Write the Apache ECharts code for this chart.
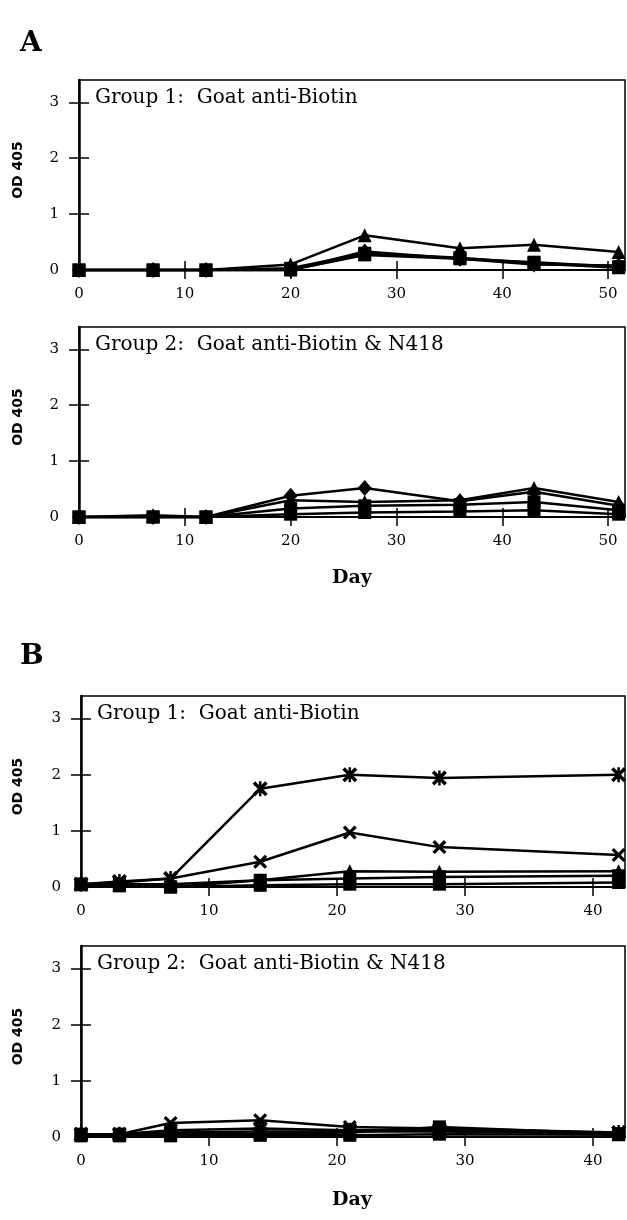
<!DOCTYPE html>
<html><head><meta charset="utf-8">
<script src="https://cdn.jsdelivr.net/npm/echarts@6/dist/echarts.min.js"></script>
<style>html,body{margin:0;padding:0;background:#fff}#c{width:627px;height:1220px}</style>
</head><body><div id="c"></div>
<script>
// ---- data ----
const daysA = [0, 7, 12, 20, 27, 36, 43, 51];
const daysB = [0, 3, 7, 14, 21, 28, 42];
const yTicks = [0, 1, 2, 3];
const xTicksA = [0, 10, 20, 30, 40, 50];
const xTicksB = [0, 10, 20, 30, 40];
const panelTitles = ["Group 1:  Goat anti-Biotin", "Group 2:  Goat anti-Biotin & N418", "Group 1:  Goat anti-Biotin", "Group 2:  Goat anti-Biotin & N418"];

const a1Triangle = [0, 0, 0, 0.10, 0.62, 0.39, 0.45, 0.32];
const a1Diamond  = [0, 0, 0, 0.00, 0.33, 0.20, 0.10, 0.08];
const a1Square   = [0, 0, 0, 0.00, 0.27, 0.20, 0.14, 0.06];
const a1Square2  = [0, 0, 0, 0.03, 0.30, 0.22, 0.12, 0.04];

const a2Diamond  = [0, 0, 0, 0.38, 0.52, 0.28, 0.45, 0.20];
const a2Triangle = [0, 0.03, 0, 0.30, 0.27, 0.30, 0.52, 0.27];
const a2Square   = [0, 0, 0, 0.15, 0.20, 0.22, 0.27, 0.12];
const a2Square2  = [0, 0, 0, 0.05, 0.08, 0.10, 0.12, 0.05];

const b1Asterisk = [0.05, 0.10, 0.15, 1.75, 2.00, 1.94, 2.00];
const b1Cross    = [0.05, 0.08, 0.15, 0.45, 0.97, 0.71, 0.57];
const b1Triangle = [0.05, 0.05, 0.05, 0.12, 0.28, 0.27, 0.28];
const b1Square   = [0.05, 0.05, 0.00, 0.12, 0.15, 0.18, 0.20];
const b1Square2  = [0.05, 0.02, 0.00, 0.03, 0.05, 0.05, 0.08];

const b2Cross    = [0.05, 0.05, 0.25, 0.30, 0.18, 0.15, 0.08];
const b2Asterisk = [0.05, 0.05, 0.12, 0.15, 0.12, 0.12, 0.08];
const b2Triangle = [0.05, 0.05, 0.08, 0.10, 0.10, 0.10, 0.06];
const b2Square   = [0.05, 0.05, 0.05, 0.06, 0.08, 0.18, 0.06];
const b2Square2  = [0.02, 0.02, 0.02, 0.03, 0.03, 0.05, 0.04];

// ---- layout / style ----
const SERIF = "'DejaVu Serif', 'Liberation Serif', serif";
const SANS = "'DejaVu Sans', 'Liberation Sans', sans-serif";
const panels = [
  {left: 79, top: 80, height: 190, xmax: 51.6, days: daysA, xt: xTicksA,
   series: [[a1Square2,'rect'],[a1Square,'rect'],[a1Diamond,'diamond'],[a1Triangle,'triangle']]},
  {left: 79, top: 327, height: 190, xmax: 51.6, days: daysA, xt: xTicksA,
   series: [[a2Square2,'rect'],[a2Square,'rect'],[a2Triangle,'triangle'],[a2Diamond,'diamond']]},
  {left: 81, top: 696, height: 191, xmax: 42.5, days: daysB, xt: xTicksB,
   series: [[b1Square2,'rect'],[b1Square,'rect'],[b1Triangle,'triangle'],[b1Cross,'cross'],[b1Asterisk,'asterisk']]},
  {left: 81, top: 946, height: 191, xmax: 42.5, days: daysB, xt: xTicksB,
   series: [[b2Square2,'rect'],[b2Square,'rect'],[b2Triangle,'triangle'],[b2Asterisk,'asterisk'],[b2Cross,'cross']]}
];
const CROSS = 'path://M0,2 L2,0 L12,10 L10,12 Z M10,0 L12,2 L2,12 L0,10 Z';
const ASTER = 'path://M0,2 L2,0 L12,10 L10,12 Z M10,0 L12,2 L2,12 L0,10 Z M5,0 L7,0 L7,12 L5,12 Z';
function sym(s){
  if (s === 'cross') return {symbol: CROSS, symbolSize: 14};
  if (s === 'asterisk') return {symbol: ASTER, symbolSize: 15};
  if (s === 'rect') return {symbol: 'rect', symbolSize: 13};
  if (s === 'diamond') return {symbol: 'diamond', symbolSize: [14, 16]};
  return {symbol: 'triangle', symbolSize: [14, 14]};
}

const grid = [], xAxis = [], yAxis = [], series = [], graphic = [];
panels.forEach((p, i) => {
  grid.push({left: p.left, right: 2, top: p.top, height: p.height, show: true,
    borderColor: '#000', borderWidth: 1.5, backgroundColor: 'transparent'});
  const xTickVals = p.xt.filter(v => v > 0);
  const yTickVals = yTicks.filter(v => v > 0);
  [false, true].forEach(inside => {
    xAxis.push({type: 'value', gridIndex: i, position: 'bottom', min: 0, max: p.xmax, interval: 10,
      axisLine: {show: !inside, onZero: false, lineStyle: {color: '#000', width: 2}},
      axisTick: {show: true, inside: inside, length: 9, customValues: xTickVals, lineStyle: {color: '#000', width: 1.5}},
      axisLabel: {show: !inside, color: '#000', fontFamily: SERIF, fontSize: 15, margin: 17, customValues: p.xt},
      splitLine: {show: false}});
    yAxis.push({type: 'value', gridIndex: i, position: 'left', min: 0, max: 3.4, interval: 1,
      axisLine: {show: !inside, onZero: false, lineStyle: {color: '#000', width: 2.5}},
      axisTick: {show: true, inside: inside, length: 10, customValues: yTickVals, lineStyle: {color: '#000', width: 1.5}},
      axisLabel: {show: !inside, color: '#000', fontFamily: SERIF, fontSize: 15, margin: 20, customValues: yTicks},
      splitLine: {show: false}});
  });
  p.series.forEach(([vals, s]) => {
    series.push(Object.assign({type: 'line', xAxisIndex: 2 * i, yAxisIndex: 2 * i,
      data: p.days.map((d, k) => [d, vals[k]]), clip: false,
      lineStyle: {color: '#000', width: 2.5}, itemStyle: {color: '#000'},
      showAllSymbol: true, animation: false, z: 3}, sym(s)));
  });
  graphic.push({type: 'text', left: p.left + 16, top: p.top + 8,
    style: {text: panelTitles[i], font: '20px ' + SERIF, fill: '#000'}});
  graphic.push({type: 'text', x: 18, y: p.top + p.height / 2 - 5, rotation: Math.PI / 2,
    style: {text: 'OD 405', font: 'bold 14px ' + SANS, fill: '#000', align: 'center', verticalAlign: 'middle'}});
});
graphic.push({type: 'text', left: 20, top: 30, style: {text: 'A', font: 'bold 28px ' + SERIF, fill: '#000'}});
graphic.push({type: 'text', left: 20, top: 643, style: {text: 'B', font: 'bold 28px ' + SERIF, fill: '#000'}});
graphic.push({type: 'text', x: 352, y: 578, style: {text: 'Day', font: 'bold 19px ' + SERIF, fill: '#000', align: 'center', verticalAlign: 'middle'}});
graphic.push({type: 'text', x: 352, y: 1200, style: {text: 'Day', font: 'bold 19px ' + SERIF, fill: '#000', align: 'center', verticalAlign: 'middle'}});

const chart = echarts.init(document.getElementById('c'), null, {renderer: 'canvas'});
chart.setOption({animation: false, backgroundColor: '#fff', grid, xAxis, yAxis, series, graphic});
</script></body></html>
